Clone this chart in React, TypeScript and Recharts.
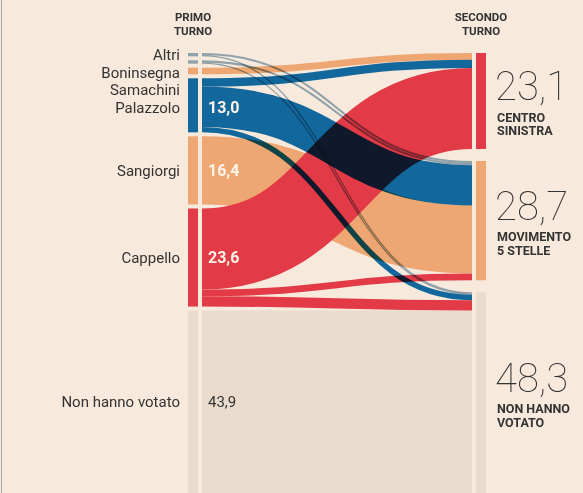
import { Sankey } from 'recharts'

// Primo turno (left column), top to bottom
const LEFT_NODES = ['Altri', 'Boninsegna', 'Samachini', 'Palazzolo', 'Sangiorgi', 'Cappello', 'Non hanno votato']
const LEFT_VALUES = ['', '', '', '13,0', '16,4', '23,6', '43,9']

// Secondo turno (right column)
const RIGHT_NODES = ['Centro sinistra', 'Movimento 5 Stelle', 'Non hanno votato']
const RIGHT_VALUES = ['23,1', '28,7', '48,3']
const RIGHT_LABELS = [['CENTRO', 'SINISTRA'], ['MOVIMENTO', '5 STELLE'], ['NON HANNO', 'VOTATO']]

// [from, to, % of voters] — estimated from the band widths
const FLOWS: [string, string, number][] = [
  ['Non hanno votato', 'Non hanno votato', 43.9],
  ['Sangiorgi', 'Movimento 5 Stelle', 16.4],
  ['Samachini', 'Centro sinistra', 1.6],
  ['Cappello', 'Centro sinistra', 19.5],
  ['Cappello', 'Movimento 5 Stelle', 1.6],
  ['Cappello', 'Non hanno votato', 2.5],
  ['Palazzolo', 'Centro sinistra', 2.0],
  ['Palazzolo', 'Movimento 5 Stelle', 9.7],
  ['Palazzolo', 'Non hanno votato', 1.3],
  ['Altri', 'Movimento 5 Stelle', 0.5],
  ['Altri', 'Non hanno votato', 0.3],
  ['Boninsegna', 'Movimento 5 Stelle', 0.5],
  ['Boninsegna', 'Non hanno votato', 0.3],
]

const W = 583
const H = 493
const MARGIN = { top: 53, right: 97, bottom: 0, left: 188 }
const NODE_WIDTH = 14
const BAR = 10
const GAP = NODE_WIDTH - BAR
const NODE_PADDING = 4
// right column has fewer nodes: spread the leftover room between them
const SPREAD = ((LEFT_NODES.length - RIGHT_NODES.length) / (RIGHT_NODES.length - 1)) * NODE_PADDING
const LABEL_STEP = 17.5

const BG = '#f7e9dc'
const INK = '#333333'
const FONT = 'Roboto, sans-serif'
const RED = '#e23a46'
const BLUE = '#12679c'
const ORANGE = '#eea772'
const GRAY = '#8fa2aa'
const BEIGE = '#eadccd'

const COLORS: Record<string, string> = {
  Altri: GRAY,
  Boninsegna: GRAY,
  Samachini: ORANGE,
  Palazzolo: BLUE,
  Sangiorgi: ORANGE,
  Cappello: RED,
  'Non hanno votato': BEIGE,
  'Centro sinistra': RED,
  'Movimento 5 Stelle': ORANGE,
}
const MULTIPLY = new Set(['Palazzolo', 'Altri', 'Boninsegna'])

const data = {
  nodes: [...LEFT_NODES, ...RIGHT_NODES].map((name) => ({ name })),
  links: FLOWS.map(([from, to, value]) => ({
    source: LEFT_NODES.indexOf(from),
    target: LEFT_NODES.length + RIGHT_NODES.indexOf(to),
    value,
  })),
}

let lastLabelY = -Infinity

function Header({ cx, lines }: { cx: number; lines: string[] }) {
  return (
    <>
      {lines.map((l, i) => (
        <text key={l} x={cx} y={21 + i * 14} textAnchor="middle" fontFamily={FONT} fontSize={11.5} fontWeight={700} fill={INK}>
          {l}
        </text>
      ))}
    </>
  )
}

// eslint-disable-next-line @typescript-eslint/no-explicit-any
function SankeyNode(props: any) {
  const { x, y, width, height, index, payload } = props
  const name: string = payload.name
  if (payload.depth === 0) {
    if (index === 0) lastLabelY = -Infinity
    const ly = Math.max(y + height / 2, lastLabelY + LABEL_STEP)
    lastLabelY = ly
    const value = LEFT_VALUES[index]
    const nonVoters = name === 'Non hanno votato'
    return (
      <g>
        {index === 0 && <Header cx={x + BAR / 2} lines={['PRIMO', 'TURNO']} />}
        <rect x={x} y={y} width={BAR} height={height} fill={COLORS[name]} />
        <text x={x - 8} y={ly} dy="0.36em" textAnchor="end" fontFamily={FONT} fontSize={15} fill={INK}>
          {name}
        </text>
        {value && (
          <text
            x={x + width + 6}
            y={ly}
            dy="0.36em"
            fontFamily={FONT}
            fontSize={nonVoters ? 15 : 16}
            fontWeight={nonVoters ? 400 : 700}
            fill={nonVoters ? INK : '#fff4e8'}
          >
            {value}
          </text>
        )}
      </g>
    )
  }
  const ri = index - LEFT_NODES.length
  const top = y + ri * SPREAD
  const cy = top + height / 2
  const tx = x + width + 11
  return (
    <g>
      {ri === 0 && <Header cx={x + GAP + BAR / 2} lines={['SECONDO', 'TURNO']} />}
      <rect x={x + GAP} y={top} width={BAR} height={height} fill={COLORS[name]} />
      <text x={tx - 2} y={cy - 1} fontFamily={FONT} fontSize={40} fontWeight={100} fill={INK}>
        {RIGHT_VALUES[ri]}
      </text>
      {RIGHT_LABELS[ri].map((l, i) => (
        <text key={l} x={tx} y={cy + 20.5 + i * 13.5} fontFamily={FONT} fontSize={12.5} fontWeight={700} fill={INK}>
          {l}
        </text>
      ))}
    </g>
  )
}

// eslint-disable-next-line @typescript-eslint/no-explicit-any
function SankeyLink(props: any) {
  const { sourceX, targetX, sourceY, targetY, sourceControlX, targetControlX, linkWidth, payload } = props
  const ty = targetY + Math.max(0, RIGHT_NODES.indexOf(payload.target.name)) * SPREAD
  const from: string = payload.source.name
  return (
    <path
      d={`M${sourceX},${sourceY}C${sourceControlX},${sourceY} ${targetControlX},${ty} ${targetX},${ty}`}
      fill="none"
      stroke={COLORS[from]}
      strokeWidth={linkWidth}
      style={MULTIPLY.has(from) ? { mixBlendMode: 'multiply' } : undefined}
    />
  )
}

export default function App() {
  return (
    <div style={{ position: 'fixed', left: 0, top: 0, width: W, height: H, background: BG, overflow: 'hidden' }}>
      <div style={{ position: 'absolute', left: 1, top: 0, width: 1, height: H, background: '#a3a6a6' }} />
      <div style={{ position: 'absolute', left: 0, top: 0, isolation: 'isolate' }}>
        <Sankey
          width={W}
          height={H}
          data={data}
          margin={MARGIN}
          nodeWidth={NODE_WIDTH}
          nodePadding={NODE_PADDING}
          iterations={0}
          node={SankeyNode}
          link={SankeyLink}
        />
      </div>
    </div>
  )
}
